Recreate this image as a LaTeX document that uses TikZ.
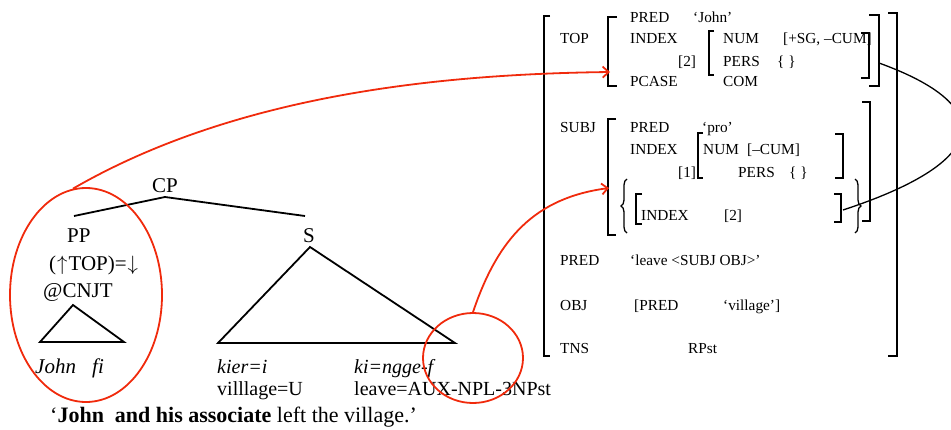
\documentclass[tikz,border=0pt]{standalone}
\usepackage{fontspec}
\setmainfont{Liberation Serif}
\usetikzlibrary{arrows.meta,shapes.geometric,decorations.pathreplacing}
\definecolor{redmark}{RGB}{240,42,12}
\tikzset{
  avm/.style={anchor=base west, inner sep=0pt, font=\fontsize{15.3}{17}\selectfont},
  tree/.style={anchor=base west, inner sep=0pt, font=\fontsize{21}{24}\selectfont},
  gloss/.style={anchor=base west, inner sep=0pt, font=\fontsize{20}{23}\selectfont},
  brk/.style={line width=1.5pt, line join=miter},
  branch/.style={line width=1.8pt, line join=miter},
  ring/.style={draw=redmark, line width=1.8pt, ellipse, inner sep=0pt},
  link/.style={draw=redmark, line width=1.8pt, -{Straight Barb[length=6pt,width=11pt,line width=1.8pt]}},
  sharecurve/.style={line width=1.3pt},
}
\newcommand\lbr[4]{\draw[brk] ({#1+#4},#2) -- (#1,#2) -- (#1,#3) -- ({#1+#4},#3);}
\begin{document}
\begin{tikzpicture}[x=1pt,y=-1pt]
\useasboundingbox (0,0) rectangle (951,429);

% ---------------- f-structure ----------------
% outer brackets
\lbr{544}{16}{356}{6}
\lbr{897}{13}{356}{-9}
% TOP value
\lbr{608}{17}{86}{9}
\lbr{879}{15}{86}{-10}
\lbr{709}{31}{75}{5}
\lbr{869}{33}{78}{-8}
% SUBJ value
\lbr{608}{119}{235}{8}
\lbr{870}{102}{221}{-8}
\lbr{698}{133}{178}{5}
\lbr{843}{134}{178}{-8}
\lbr{636}{194}{224}{6}
\lbr{841}{194}{222}{-7}
\draw[brk, line width=1.3pt, decorate, decoration={brace, amplitude=6pt}] (627,233) -- (627,179);
\draw[brk, line width=1.3pt, decorate, decoration={brace, amplitude=6pt}] (855,179) -- (855,233);

\node[avm] (top)   at (560,43) {TOP};
\node[avm] (tpred) at (630,22) {PRED};
\node[avm] (tjohn) at (693,22) {‘John’};
\node[avm] (tidx)  at (630,43) {INDEX};
\node[avm] (ttwo)  at (678,66) {[2]};
\node[avm] (tnum)  at (723,43) {NUM};
\node[avm] (tnumv) at (783,43) {[+SG, –CUM]};
\node[avm] (tpers) at (723,66) {PERS};
\node[avm] (tpersv) at (777,66) {\{ \}};
\node[avm] (tcase) at (630,86) {PCASE};
\node[avm] (tcom)  at (723,86) {COM};

\node[avm] (subj)  at (560,132) {SUBJ};
\node[avm] (spred) at (630,132) {PRED};
\node[avm] (spro)  at (702,132) {‘pro’};
\node[avm] (sidx)  at (630,154) {INDEX};
\node[avm] (snum)  at (703,154) {NUM};
\node[avm] (snumv) at (747,154) {[–CUM]};
\node[avm] (sone)  at (678,177) {[1]};
\node[avm] (spers) at (738,177) {PERS};
\node[avm] (spersv) at (789,177) {\{ \}};
\node[avm] (sidx2) at (641,220) {INDEX};
\node[avm] (stwo)  at (724,220) {[2]};

\node[avm] (pred)  at (560,265) {PRED};
\node[avm] (predv) at (630,265) {‘leave <SUBJ OBJ>’};
\node[avm] (obj)   at (560,310) {OBJ};
\node[avm] (objp)  at (634,310) {[PRED};
\node[avm] (objv)  at (723,310) {‘village’]};
\node[avm] (tns)   at (560,353) {TNS};
\node[avm] (tnsv)  at (688,353) {RPst};

% index-sharing curve
\coordinate (topR) at (879,63);
\coordinate (subR) at (843,210);
\draw[sharecurve] (topR) .. controls (995,105) and (995,160) .. (subR);

% ---------------- c-structure ----------------
\node[tree] (cp) at (152,192) {CP};
\coordinate (cpJ) at (165,197);
\coordinate (ppJ) at (74,216);
\coordinate (sJ)  at (305,216);
\draw[branch] (ppJ) -- (cpJ) -- (sJ);

\node[tree] (pp)   at (67,242) {PP};
\node[tree] (ann)  at (49,270) {(\kern1pt$\uparrow$\kern1pt TOP)=\kern1pt$\downarrow$};
\node[tree] (cnjt) at (43,297) {@CNJT};
\draw[branch] (73,305) -- (124,342) -- (40,342) -- cycle;
\node[tree, font=\fontsize{21}{24}\selectfont\itshape] (john) at (35,373) {John};
\node[tree, font=\fontsize{21}{24}\selectfont\itshape] (fi)   at (92,373) {f\kern0pt i};

\node[tree] (s) at (303,242) {S};
\draw[branch] (310,247) -- (455,343) -- (218,343) -- cycle;

\node[gloss, font=\fontsize{20}{23}\selectfont\itshape] (kier) at (217,373) {kier=i};
\node[gloss] (vill) at (217,395) {villlage=U};
\node[gloss, font=\fontsize{20}{23}\selectfont\itshape] (ki) at (354,373) {ki=ngge-f};
\node[gloss] (leave) at (354,395) {leave=AUX-NPL-3NPst};

\node[gloss, font=\fontsize{22}{24}\selectfont] (transl) at (50,422)
  {‘\textbf{John\ \ and his associate} left the village.’};

% ---------------- correspondence marks ----------------
\node[ring, minimum width=152pt, minimum height=214pt] (ppring) at (86,295) {};
\node[ring, minimum width=100pt, minimum height=90pt] (vring) at (473,358) {};
\coordinate (topL) at (610,72);
\coordinate (subL) at (609,188);
\draw[link] (ppring.97) .. controls (240,92) and (450,74) .. (topL);
\draw[link] (vring.north) .. controls (498,238) and (535,198) .. (subL);
\end{tikzpicture}
\end{document}
